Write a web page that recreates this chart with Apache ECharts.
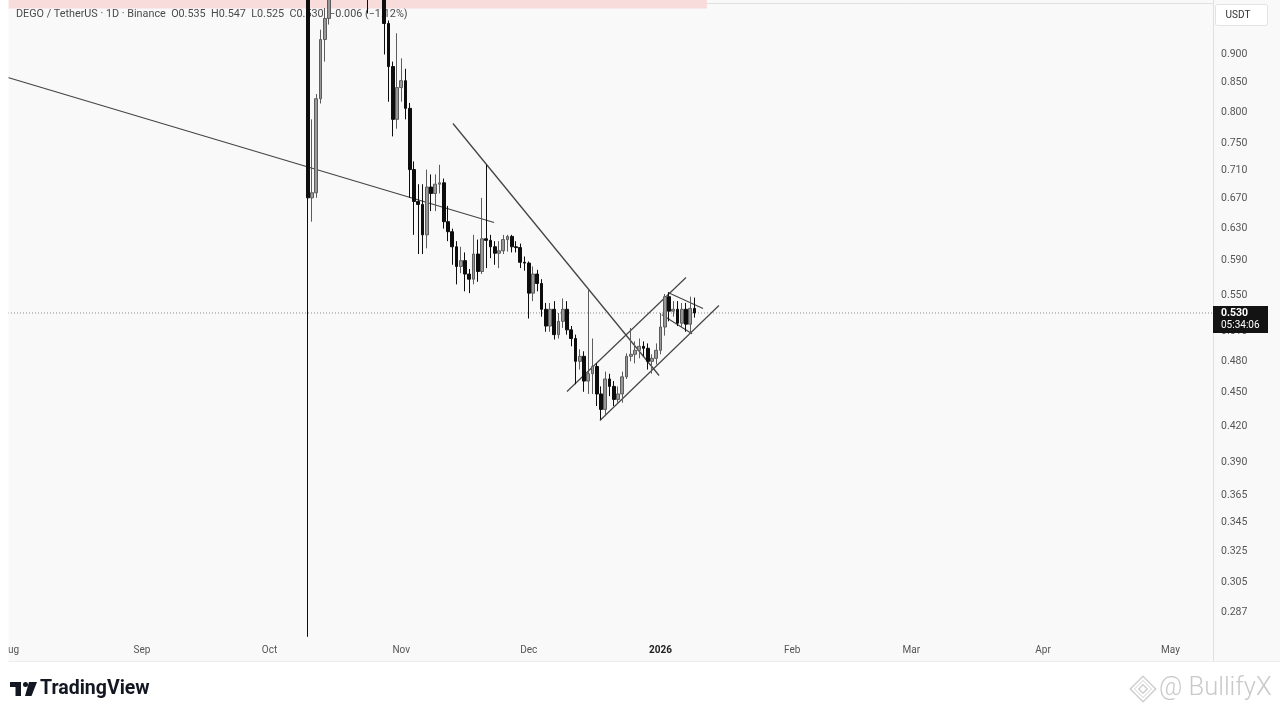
<!DOCTYPE html>
<html><head><meta charset="utf-8">
<script src="https://cdn.jsdelivr.net/npm/echarts@6/dist/echarts.min.js"></script>
<style>html,body{margin:0;padding:0;background:#fff}#c{width:1280px;height:715px}</style>
</head><body><div id="c"></div>
<script>
// ---- data ----
const dates = ['2025-10-10','2025-10-11','2025-10-12','2025-10-13','2025-10-14','2025-10-15','2025-10-16','2025-10-17','2025-10-18','2025-10-19',
'2025-10-20','2025-10-21','2025-10-22','2025-10-23','2025-10-24','2025-10-25','2025-10-26','2025-10-27','2025-10-28','2025-10-29',
'2025-10-30','2025-10-31','2025-11-01','2025-11-02','2025-11-03','2025-11-04','2025-11-05','2025-11-06','2025-11-07','2025-11-08',
'2025-11-09','2025-11-10','2025-11-11','2025-11-12','2025-11-13','2025-11-14','2025-11-15','2025-11-16','2025-11-17','2025-11-18',
'2025-11-19','2025-11-20','2025-11-21','2025-11-22','2025-11-23','2025-11-24','2025-11-25','2025-11-26','2025-11-27','2025-11-28',
'2025-11-29','2025-11-30','2025-12-01','2025-12-02','2025-12-03','2025-12-04','2025-12-05','2025-12-06','2025-12-07','2025-12-08',
'2025-12-09','2025-12-10','2025-12-11','2025-12-12','2025-12-13','2025-12-14','2025-12-15','2025-12-16','2025-12-17','2025-12-18',
'2025-12-19','2025-12-20','2025-12-21','2025-12-22','2025-12-23','2025-12-24','2025-12-25','2025-12-26','2025-12-27','2025-12-28',
'2025-12-29','2025-12-30','2025-12-31','2026-01-01','2026-01-02','2026-01-03','2026-01-04','2026-01-05','2026-01-06','2026-01-07',
'2026-01-08','2026-01-09'];
const opens = [1.120,0.671,0.678,0.822,0.928,0.969,1.030,1.080,1.050,1.070,
1.100,1.060,1.090,1.050,1.070,1.040,1.060,1.090,1.060,0.959,
0.878,0.788,0.841,0.853,0.806,0.711,0.666,0.662,0.622,0.686,
0.677,0.690,0.692,0.639,0.626,0.607,0.583,0.590,0.574,0.568,
0.598,0.577,0.617,0.615,0.607,0.599,0.602,0.616,0.620,0.607,
0.606,0.588,0.587,0.552,0.574,0.563,0.534,0.516,0.534,0.507,
0.521,0.534,0.512,0.503,0.480,0.485,0.461,0.468,0.475,0.449,
0.435,0.463,0.456,0.444,0.449,0.465,0.485,0.487,0.491,0.495,
0.493,0.480,0.483,0.491,0.515,0.548,0.532,0.534,0.519,0.534,
0.518,0.535];
const closes = [0.671,0.678,0.822,0.928,0.969,1.030,1.080,1.050,1.070,1.100,
1.060,1.090,1.050,1.070,1.040,1.060,1.090,1.060,0.959,0.878,
0.788,0.841,0.853,0.806,0.711,0.666,0.662,0.622,0.686,0.677,
0.690,0.692,0.639,0.626,0.607,0.583,0.590,0.574,0.568,0.598,
0.577,0.617,0.615,0.607,0.599,0.602,0.616,0.620,0.607,0.606,
0.588,0.587,0.552,0.574,0.563,0.534,0.516,0.534,0.507,0.521,
0.534,0.512,0.503,0.480,0.485,0.461,0.468,0.475,0.449,0.435,
0.463,0.456,0.444,0.449,0.465,0.485,0.487,0.491,0.495,0.493,
0.480,0.483,0.491,0.515,0.548,0.532,0.534,0.519,0.534,0.518,
0.535,0.530];
const lows = [0.2730,0.639,0.671,0.814,0.887,0.957,1.010,1.020,1.030,1.040,
1.030,1.020,1.020,1.010,0.979,1.020,1.040,1.010,0.900,0.817,
0.761,0.773,0.817,0.788,0.671,0.622,0.598,0.598,0.605,0.653,
0.653,0.677,0.630,0.614,0.585,0.562,0.575,0.554,0.552,0.562,
0.565,0.574,0.581,0.593,0.585,0.581,0.598,0.601,0.600,0.600,
0.581,0.578,0.524,0.543,0.554,0.526,0.510,0.510,0.502,0.503,
0.514,0.507,0.495,0.458,0.472,0.451,0.449,0.449,0.438,0.426,
0.429,0.447,0.438,0.441,0.441,0.463,0.480,0.478,0.483,0.485,
0.472,0.468,0.477,0.487,0.506,0.521,0.526,0.516,0.515,0.510,
0.508,0.525];
const highs = [1.160,0.788,0.830,0.947,0.990,1.090,1.120,1.110,1.100,1.140,
1.130,1.150,1.110,1.100,1.090,1.080,1.120,1.110,1.080,0.965,
0.887,0.940,0.893,0.874,0.815,0.723,0.690,0.690,0.711,0.704,
0.704,0.718,0.698,0.660,0.630,0.614,0.607,0.600,0.580,0.622,
0.616,0.671,0.718,0.622,0.614,0.614,0.622,0.622,0.622,0.614,
0.611,0.595,0.589,0.583,0.579,0.568,0.541,0.541,0.543,0.530,
0.546,0.543,0.516,0.507,0.492,0.490,0.556,0.503,0.478,0.456,
0.470,0.468,0.461,0.456,0.470,0.488,0.514,0.500,0.503,0.500,
0.498,0.487,0.498,0.530,0.551,0.553,0.543,0.543,0.541,0.541,
0.548,0.547];
const priceTicks = [0.287,0.305,0.325,0.345,0.365,0.390,0.420,0.450,0.480,0.510,0.550,0.590,0.630,0.670,0.710,0.750,0.800,0.850,0.900];
const monthTicks = ['2025-08-01','2025-09-01','2025-10-01','2025-11-01','2025-12-01','2026-01-01','2026-02-01','2026-03-01','2026-04-01','2026-05-01'];
const monthLabels = ['Aug','Sep','Oct','Nov','Dec','2026','Feb','Mar','Apr','May'];
const lastPrice = 0.530;
const countdown = '05:34:06';
const headerText = 'DEGO / TetherUS · 1D · Binance  O0.535  H0.547  L0.525  C0.530  −0.006 (−1.12%)';
// drawn lines [time, price] endpoints
const longTrend = [['2025-07-31 11:00', 0.8586], ['2025-11-22 20:00', 0.638]];
const downTrend = [['2025-11-13 04:00', 0.7814], ['2025-12-31 16:00', 0.4663]];
const channelUpper = [['2025-12-10 00:00', 0.4513], ['2026-01-07 00:00', 0.570]];
const channelLower = [['2025-12-17 18:00', 0.4252], ['2026-01-14 18:00', 0.5382]];
const flagUpper = [['2026-01-02 18:00', 0.5527], ['2026-01-11 00:00', 0.535]];
const flagLower = [['2026-01-01 08:00', 0.528], ['2026-01-08 10:00', 0.508]];
const zoneBand = [['2025-07-31 11:00', 0.989], ['2026-01-11 22:00', 1.0063]];
const xRange = ['2025-07-31 11:17', '2026-05-11 00:00'];
const yRange = [0.2729, 1.0063];

// ---- helpers ----
function ts(s) {
  const p = s.split(' ');
  const d = p[0].split('-').map(Number);
  const t = (p[1] || '00:00').split(':').map(Number);
  return Date.UTC(d[0], d[1] - 1, d[2], t[0], t[1]);
}
const L = v => Math.log10(v);
const FONT = 'Roboto, "Open Sans", sans-serif';

const candleData = dates.map((d, i) => [ts(d), L(opens[i]), L(closes[i]), L(Math.max(lows[i], yRange[0])), L(highs[i])]);
function lineSeries(pts, width, color, type) {
  return {
    type: 'line', data: pts.map(p => [ts(p[0]), L(p[1])]), symbol: 'none', silent: true,
    lineStyle: { color: color || '#444', width: width || 1, type: type || 'solid' }, z: 3, clip: true
  };
}
const monthMap = {};
monthTicks.forEach((m, i) => { monthMap[ts(m)] = monthLabels[i]; });

const chart = echarts.init(document.getElementById('c'), null, { renderer: 'canvas' });
chart.setOption({
  animation: false,
  backgroundColor: '#ffffff',
  grid: { left: 8, right: 67, top: 0, bottom: 78, containLabel: false, outerBoundsMode: 'none' },
  xAxis: {
    type: 'value', min: ts(xRange[0]), max: ts(xRange[1]), scale: true,
    axisLine: { show: true, lineStyle: { color: '#e0e0e0' } },
    axisTick: { show: false }, splitLine: { show: false },
    axisLabel: {
      customValues: monthTicks.map(ts), margin: 8, color: '#555', fontSize: 10, fontFamily: FONT,
      hideOverlap: false, showMinLabel: true, showMaxLabel: true,
      formatter: v => { const s = monthMap[Math.round(v)] || ''; return s === '2026' ? '{b|2026}' : s; },
      rich: { b: { fontWeight: 'bold', color: '#222', fontSize: 10, fontFamily: FONT } }
    }
  },
  yAxis: {
    type: 'value', position: 'right', min: L(yRange[0]), max: L(yRange[1]), scale: true,
    axisLine: { show: false }, axisTick: { show: false }, splitLine: { show: false },
    axisLabel: {
      customValues: priceTicks.map(L), margin: 8, color: '#555', fontSize: 10.5, fontFamily: FONT,
      formatter: v => Math.pow(10, v).toFixed(3)
    }
  },
  series: [
    {
      type: 'candlestick', data: candleData, barWidth: 3.4, clip: true, z: 4,
      itemStyle: { color: '#989898', color0: '#0d0d0d', borderColor: '#5c5c5c', borderColor0: '#0d0d0d', borderWidth: 1 },
      markArea: {
        silent: true, itemStyle: { color: '#f8dcdc' },
        data: [[{ xAxis: ts(zoneBand[0][0]), yAxis: L(zoneBand[0][1]) }, { xAxis: ts(zoneBand[1][0]), yAxis: L(zoneBand[1][1]) }]]
      }
    },
    lineSeries([[xRange[0], lastPrice], [xRange[1], lastPrice]], 1, '#8a8a8a', [1, 2]),
    lineSeries(longTrend, 1.1),
    lineSeries(downTrend, 1.3),
    lineSeries(channelUpper, 1.2),
    lineSeries(channelLower, 1.2),
    lineSeries(flagUpper, 1.1),
    lineSeries(flagLower, 1.1)
  ],
  graphic: { elements: [
    { type: 'rect', id: 'bg', z: -10, silent: true, shape: { x: 8, y: 0, width: 1272, height: 661 }, style: { fill: '#f9f9f9' } },
    { type: 'line', id: 'axisV', z: 40, silent: true, shape: { x1: 1213.5, y1: 0, x2: 1213.5, y2: 661 }, style: { stroke: '#e0e0e0', lineWidth: 1 } },
    { type: 'line', id: 'axisB', z: 40, silent: true, shape: { x1: 8, y1: 661.5, x2: 1280, y2: 661.5 }, style: { stroke: '#ececec', lineWidth: 1 } },
    { type: 'rect', id: 'leftCover', z: 50, silent: true, shape: { x: 0, y: 0, width: 8.5, height: 715 }, style: { fill: '#ffffff' } },
    { type: 'text', id: 'hdr', z: 1, silent: true, style: { text: headerText, x: 16, y: 14.5, fill: '#4a4a4a', font: '10.8px ' + FONT, verticalAlign: 'middle' } },
    { type: 'rect', id: 'usdtBox', z: 50, silent: true, shape: { x: 1215.5, y: 4.5, width: 52, height: 21, r: 2 }, style: { fill: '#ffffff', stroke: '#e3e3e3', lineWidth: 1 } },
    { type: 'text', id: 'usdt', z: 51, silent: true, style: { text: 'USDT', x: 1238, y: 15, fill: '#333', font: '10px ' + FONT, align: 'center', verticalAlign: 'middle' } },
    { type: 'rect', id: 'tv1', z: 50, silent: true, shape: { x: 10, y: 682, width: 11, height: 5 }, style: { fill: '#131722' } },
    { type: 'rect', id: 'tv2', z: 50, silent: true, shape: { x: 15.5, y: 682, width: 5.5, height: 14 }, style: { fill: '#131722' } },
    { type: 'circle', id: 'tv3', z: 50, silent: true, shape: { cx: 25.5, cy: 684.5, r: 2.5 }, style: { fill: '#131722' } },
    { type: 'polygon', id: 'tv4', z: 50, silent: true, shape: { points: [[29, 682], [37, 682], [31.5, 696], [25, 696]] }, style: { fill: '#131722' } },
    { type: 'text', id: 'tvText', z: 50, silent: true, style: { text: 'TradingView', x: 40, y: 689, fill: '#131722', font: 'bold 19.5px ' + FONT, verticalAlign: 'middle' } },
    { type: 'group', id: 'wmIcon', z: 50, silent: true, x: 1143, y: 689, children: [
      { type: 'rect', rotation: Math.PI / 4, shape: { x: -9, y: -9, width: 18, height: 18 }, style: { fill: 'none', stroke: '#cfcfcf', lineWidth: 1.5 } },
      { type: 'rect', rotation: Math.PI / 4, shape: { x: -3, y: -3, width: 6, height: 6 }, style: { fill: 'none', stroke: '#cfcfcf', lineWidth: 1.5 } },
      { type: 'rect', rotation: Math.PI / 4, shape: { x: -6, y: -6, width: 12, height: 12 }, style: { fill: 'none', stroke: '#e0e0e0', lineWidth: 1 } }
    ] },
    { type: 'text', id: 'wmText', z: 50, silent: true, style: { text: '@ BullifyX', x: 1159, y: 689, fill: '#c9c9c9', font: '300 25.5px ' + FONT, verticalAlign: 'middle' } }
  ] }
});

const yPix = chart.convertToPixel({ yAxisIndex: 0 }, L(lastPrice));
chart.setOption({ graphic: { elements: [
  { type: 'rect', id: 'pbox', z: 60, silent: true, shape: { x: 1213, y: yPix - 7, width: 55, height: 27 }, style: { fill: '#131313' } },
  { type: 'text', id: 'pt1', z: 61, silent: true, style: { text: lastPrice.toFixed(3), x: 1221, y: yPix, fill: '#fff', font: 'bold 10.5px ' + FONT, verticalAlign: 'middle' } },
  { type: 'text', id: 'pt2', z: 61, silent: true, style: { text: countdown, x: 1221, y: yPix + 12.5, fill: '#fff', font: '10px ' + FONT, verticalAlign: 'middle' } }
] } });
</script>
</body></html>
